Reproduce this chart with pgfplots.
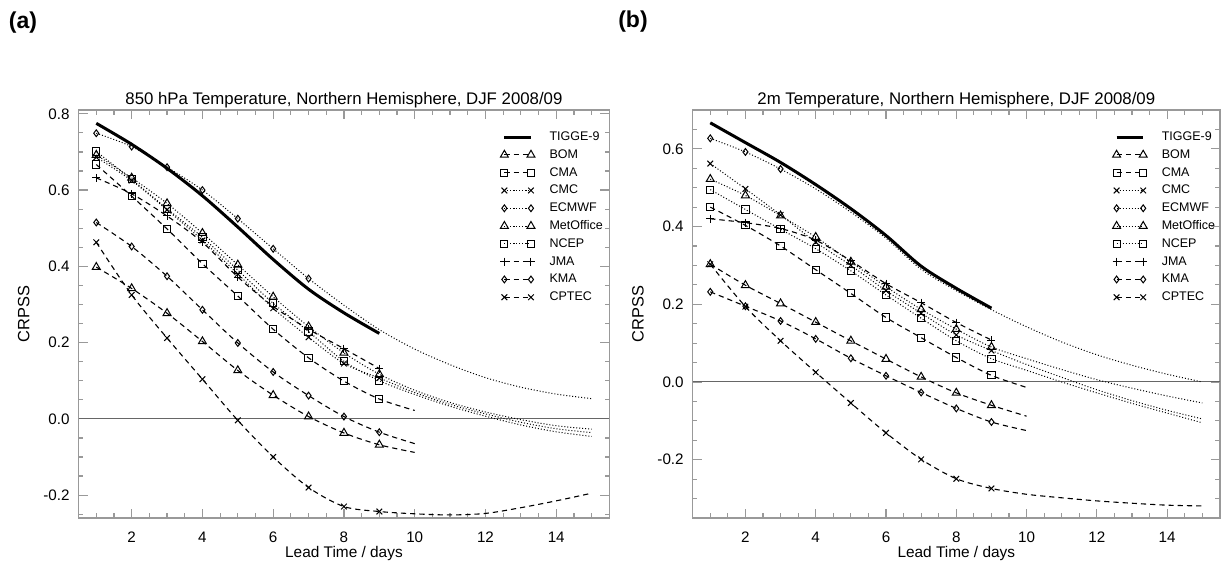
\documentclass[border=0pt]{standalone}
\usepackage{fontspec}
\setmainfont{Liberation Sans}
\usepackage{pgfplots}
\pgfplotsset{compat=1.18}

\pgfplotsset{
  crps/.style={
    scale only axis, width=265.35pt, height=204pt,
    xmin=0.5, xmax=15.5,
    xtick={2,4,6,8,10,12,14}, xticklabels={2,4,6,8,10,12,14},
    minor xtick={0.5,1,...,15.5},
    tick align=inside, tick pos=both,
    major tick length=4.5pt, minor tick length=2.3pt,
    axis line style={draw=black!40, line width=0.6pt},
    every tick/.style={black!40, line width=0.6pt},
    tick label style={font=\fontsize{7.6}{9}\selectfont, black},
    xticklabel style={yshift=-3.6pt},
    yticklabel style={xshift=-1pt},
    xlabel={Lead Time / days}, ylabel={CRPSS},
    every axis x label/.style={at={(axis description cs:0.5,-0.0966)}, anchor=base,
      font=\fontsize{7.7}{9}\selectfont},
    every axis y label/.style={at={(axis description cs:-0.1036,0.5)}, rotate=90, anchor=center,
      font=\fontsize{8.2}{9}\selectfont},
    every axis title/.style={at={(axis description cs:0.5,1.0142)}, anchor=base,
      font=\fontsize{8.4}{10}\selectfont},
    legend cell align=left,
    legend style={draw=none, fill=none, inner sep=0pt, row sep=0pt, column sep=7.3pt,
      font=\fontsize{6.25}{7}\selectfont, anchor=north west,
      nodes={inner xsep=0pt, inner ysep=1.2pt, text height=5pt, text depth=1.5pt}},
    legend image code/.code={
      \draw[#1, mark indices={1,3}] plot coordinates {(0pt,0pt) (6.65pt,0pt) (13.3pt,0pt)};
    },
  },
  dsh/.style={black, line width=0.55pt, dash pattern=on 2.6pt off 2pt, smooth,
    mark options={solid, line width=0.5pt}},
  dtt/.style={black, line width=0.5pt, dash pattern=on 0.5pt off 1pt, smooth,
    mark options={solid, line width=0.5pt}},
  tig/.style={black, line width=1.5pt, smooth, no marks},
  zl/.style={black!60, line width=0.5pt, forget plot, no marks},
  mtri/.style={mark=triangle, mark size=2.3pt},
  msq/.style={mark=square, mark size=1.8pt},
  mx/.style={mark=x, mark size=2pt},
  mdia/.style={mark=diamond, mark size=1.7pt},
  mplus/.style={mark=+, mark size=2pt},
}

\begin{document}
\begin{tikzpicture}
\useasboundingbox (0,0) rectangle (611pt,281pt);

\node[font=\bfseries\fontsize{11.5}{13}\selectfont] at (11.5pt,269.75pt) {(a)};
\node[font=\bfseries\fontsize{11.5}{13}\selectfont] at (316.5pt,270pt) {(b)};

% ---------------- panel (a) ----------------
\begin{axis}[crps, at={(39.3pt,22pt)}, anchor=south west,
  ymin=-0.26, ymax=0.81,
  ytick={-0.2,0,0.2,0.4,0.6,0.8}, yticklabels={-0.2,0.0,0.2,0.4,0.6,0.8},
  minor ytick={-0.25,-0.2,...,0.8},
  title={850 hPa Temperature, Northern Hemisphere, DJF 2008/09},
  legend style={at={(axis description cs:0.794,0.9564)}}]
  \addplot[zl] coordinates {(0.5,0)(15.5,0)};
  \addplot[tig] coordinates {(1,0.775)(2,0.720)(3,0.657)(4,0.585)(5,0.503)(6,0.418)(7,0.340)(8,0.278)(9,0.224)};
  \addlegendentry{TIGGE-9}
  \addplot[dsh, mtri, mark indices={1,2,3,4,5,6,7,8,9}] coordinates {(1,0.398)(2,0.342)(3,0.277)(4,0.203)(5,0.127)(6,0.062)(7,0.006)(8,-0.037)(9,-0.068)(10,-0.088)};
  \addlegendentry{BOM}
  \addplot[dsh, msq, mark indices={1,2,3,4,5,6,7,8,9}] coordinates {(1,0.667)(2,0.584)(3,0.498)(4,0.407)(5,0.322)(6,0.235)(7,0.160)(8,0.099)(9,0.052)(10,0.022)};
  \addlegendentry{CMA}
  \addplot[dtt, mx, mark indices={1,2,3,4,5,6,7,8,9}] coordinates {(1,0.686)(2,0.625)(3,0.548)(4,0.468)(5,0.380)(6,0.290)(7,0.214)(8,0.145)(9,0.107)(10,0.069)(11,0.038)(12,0.013)(13,-0.009)(14,-0.026)(15,-0.036)};
  \addlegendentry{CMC}
  \addplot[dtt, mdia, mark indices={1,2,3,4,5,6,7}] coordinates {(1,0.749)(2,0.714)(3,0.660)(4,0.600)(5,0.525)(6,0.446)(7,0.368)(8,0.298)(9,0.234)(10,0.183)(11,0.142)(12,0.108)(13,0.083)(14,0.065)(15,0.053)};
  \addlegendentry{ECMWF}
  \addplot[dtt, mtri, mark indices={1,2,3,4,5,6,7,8,9}] coordinates {(1,0.692)(2,0.632)(3,0.565)(4,0.487)(5,0.404)(6,0.320)(7,0.242)(8,0.173)(9,0.117)(10,0.075)(11,0.043)(12,0.018)(13,-0.002)(14,-0.018)(15,-0.027)};
  \addlegendentry{MetOffice}
  \addplot[dtt, msq, mark indices={1,2,3,4,5,6,7,8,9}] coordinates {(1,0.701)(2,0.628)(3,0.551)(4,0.476)(5,0.390)(6,0.303)(7,0.229)(8,0.151)(9,0.100)(10,0.064)(11,0.033)(12,0.007)(13,-0.016)(14,-0.034)(15,-0.046)};
  \addlegendentry{NCEP}
  \addplot[dsh, mplus] coordinates {(1,0.632)(2,0.590)(3,0.532)(4,0.463)(5,0.372)(6,0.295)(7,0.235)(8,0.184)(9,0.132)};
  \addlegendentry{JMA}
  \addplot[dsh, mdia, mark indices={1,2,3,4,5,6,7,8,9}] coordinates {(1,0.515)(2,0.452)(3,0.374)(4,0.286)(5,0.199)(6,0.123)(7,0.061)(8,0.006)(9,-0.035)(10,-0.065)};
  \addlegendentry{KMA}
  \addplot[dsh, mx, mark indices={1,2,3,4,5,6,7,8,9}] coordinates {(1,0.463)(2,0.325)(3,0.212)(4,0.104)(5,-0.004)(6,-0.100)(7,-0.180)(8,-0.230)(9,-0.243)(10,-0.249)(11,-0.252)(12,-0.248)(13,-0.233)(14,-0.215)(15,-0.195)};
  \addlegendentry{CPTEC}
\end{axis}

% ---------------- panel (b) ----------------
\begin{axis}[crps, at={(346.35pt,22pt)}, anchor=south west, width=263.6pt,
  ymin=-0.35, ymax=0.70,
  ytick={-0.2,0,0.2,0.4,0.6}, yticklabels={-0.2,0.0,0.2,0.4,0.6},
  minor ytick={-0.35,-0.3,...,0.7},
  title={2m Temperature, Northern Hemisphere, DJF 2008/09},
  legend style={at={(axis description cs:0.7957,0.9564)}}]
  \addplot[zl] coordinates {(0.5,0)(15.5,0)};
  \addplot[tig] coordinates {(1,0.667)(2,0.616)(3,0.565)(4,0.508)(5,0.446)(6,0.377)(7,0.298)(8,0.241)(9,0.190)};
  \addlegendentry{TIGGE-9}
  \addplot[dsh, mtri, mark indices={1,2,3,4,5,6,7,8,9}] coordinates {(1,0.303)(2,0.249)(3,0.202)(4,0.154)(5,0.106)(6,0.059)(7,0.013)(8,-0.028)(9,-0.060)(10,-0.088)};
  \addlegendentry{BOM}
  \addplot[dsh, msq, mark indices={1,2,3,4,5,6,7,8,9}] coordinates {(1,0.450)(2,0.403)(3,0.350)(4,0.289)(5,0.228)(6,0.166)(7,0.114)(8,0.063)(9,0.017)(10,-0.014)};
  \addlegendentry{CMA}
  \addplot[dtt, mx, mark indices={1,2,3,4,5,6,7,8,9}] coordinates {(1,0.562)(2,0.497)(3,0.430)(4,0.360)(5,0.300)(6,0.235)(7,0.177)(8,0.121)(9,0.081)(10,0.045)(11,0.012)(12,-0.020)(13,-0.048)(14,-0.073)(15,-0.095)};
  \addlegendentry{CMC}
  \addplot[dtt, mdia, mark indices={1,2,3}] coordinates {(1,0.627)(2,0.592)(3,0.548)(4,0.497)(5,0.437)(6,0.370)(7,0.290)(8,0.235)(9,0.186)(10,0.142)(11,0.103)(12,0.070)(13,0.043)(14,0.020)(15,0.000)};
  \addlegendentry{ECMWF}
  \addplot[dtt, mtri, mark indices={1,2,3,4,5,6,7,8,9}] coordinates {(1,0.522)(2,0.480)(3,0.428)(4,0.373)(5,0.309)(6,0.245)(7,0.187)(8,0.136)(9,0.090)(10,0.060)(11,0.032)(12,0.006)(13,-0.016)(14,-0.036)(15,-0.054)};
  \addlegendentry{MetOffice}
  \addplot[dtt, msq, mark indices={1,2,3,4,5,6,7,8,9}] coordinates {(1,0.495)(2,0.444)(3,0.393)(4,0.343)(5,0.286)(6,0.224)(7,0.164)(8,0.106)(9,0.060)(10,0.030)(11,0.000)(12,-0.028)(13,-0.055)(14,-0.080)(15,-0.105)};
  \addlegendentry{NCEP}
  \addplot[dsh, mplus] coordinates {(1,0.420)(2,0.410)(3,0.395)(4,0.365)(5,0.312)(6,0.253)(7,0.204)(8,0.153)(9,0.108)};
  \addlegendentry{JMA}
  \addplot[dsh, mdia, mark indices={1,2,3,4,5,6,7,8,9}] coordinates {(1,0.232)(2,0.195)(3,0.157)(4,0.111)(5,0.061)(6,0.016)(7,-0.027)(8,-0.068)(9,-0.103)(10,-0.125)};
  \addlegendentry{KMA}
  \addplot[dsh, mx, mark indices={1,2,3,4,5,6,7,8,9}] coordinates {(1,0.303)(2,0.194)(3,0.106)(4,0.025)(5,-0.054)(6,-0.131)(7,-0.199)(8,-0.249)(9,-0.274)(10,-0.289)(11,-0.298)(12,-0.306)(13,-0.312)(14,-0.317)(15,-0.319)};
  \addlegendentry{CPTEC}
\end{axis}
\end{tikzpicture}
\end{document}
